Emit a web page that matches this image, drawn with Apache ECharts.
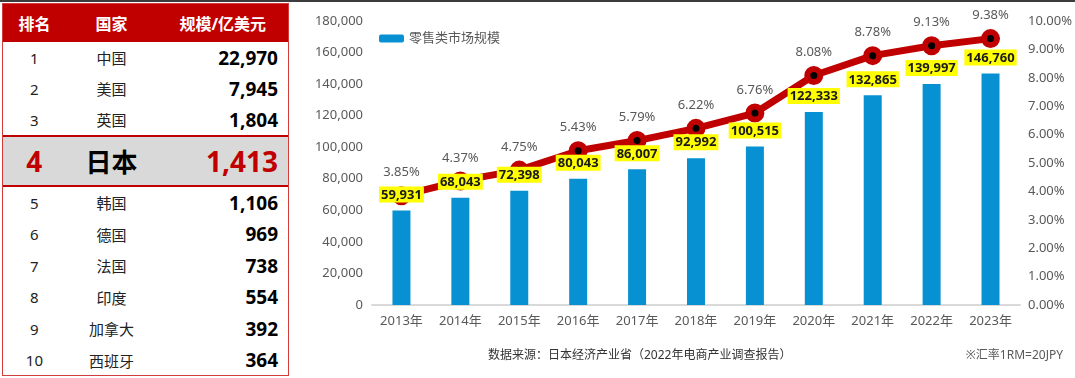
<!DOCTYPE html>
<html>
<head>
<meta charset="utf-8">
<script src="https://cdn.jsdelivr.net/npm/echarts@6/dist/echarts.min.js"></script>
<style>
  html, body { margin:0; padding:0; background:#fff; }
  body { width:1075px; height:378px; position:relative; overflow:hidden; font-family:'Noto Sans','Noto Sans CJK SC',sans-serif; }
  #topline { position:absolute; left:0; top:0; width:1075px; height:2px; background:#3c3c3c; }
  #chart { position:absolute; left:0; top:0; width:1075px; height:378px; }
  #tbl { position:absolute; left:2px; top:3px; width:287px; height:373px; border:1px solid #d23c3c; box-sizing:border-box; background:#fff; z-index:2; }
  .row { display:flex; align-items:center; box-sizing:border-box; }
  .c1 { width:63px; text-align:center; }
  .c2 { width:92px; text-align:center; }
  .c3 { width:121px; text-align:right; padding-right:10px; }
  .hdr { height:38px; background:#c00000; color:#fff; font-weight:bold; font-size:16px; }
  .hdr .c3 { text-align:center; padding-right:0; width:131px; }
  .r { color:#222; font-size:15px; }
  .r .c3 { font-size:19px; font-weight:bold; color:#000; }
  .hl { height:52px; background:#d9d9d9; border-top:2px solid #c00000; border-bottom:2px solid #c00000; font-weight:bold; }
  .hl .c1, .hl .c3 { color:#c00000; font-size:28px; }
  .hl .c2 { color:#000; font-size:26px; }
</style>
</head>
<body>
<div id="chart"></div>
<div id="topline"></div>
<div id="tbl"></div>
<script>
// ---- Ranking table data ----
const tableHeaders = ['排名', '国家', '规模/亿美元'];
const ranks = [1, 2, 3, 4, 5, 6, 7, 8, 9, 10];
const countries = ['中国', '美国', '英国', '日本', '韩国', '德国', '法国', '印度', '加拿大', '西班牙'];
const marketSizeUSD = [22970, 7945, 1804, 1413, 1106, 969, 738, 554, 392, 364];
const highlightCountry = '日本';

// ---- Chart data ----
const years = ['2013年', '2014年', '2015年', '2016年', '2017年', '2018年', '2019年', '2020年', '2021年', '2022年', '2023年'];
const retailMarket = [59931, 68043, 72398, 80043, 86007, 92992, 100515, 122333, 132865, 139997, 146760];
const ecRate = [3.85, 4.37, 4.75, 5.43, 5.79, 6.22, 6.76, 8.08, 8.78, 9.13, 9.38];
const seriesName = '零售类市场规模';
const sourceNote = '数据来源：日本经济产业省（2022年电商产业调查报告）';
const rateNote = '※汇率1RM=20JPY';

// build table
const fmt = v => v.toLocaleString('en-US');
const tbl = document.getElementById('tbl');
let html = '<div class="row hdr">' + tableHeaders.map((h, i) => '<div class="c' + (i + 1) + '">' + h + '</div>').join('') + '</div>';
ranks.forEach((r, i) => {
  const isHl = countries[i] === highlightCountry;
  const h = isHl ? '' : (i < 3 ? 'height:31px;' : 'height:31.5px;');
  html += '<div class="row ' + (isHl ? 'hl' : 'r') + '" style="' + h + '"><div class="c1">' + r + '</div><div class="c2">' + countries[i] + '</div><div class="c3">' + fmt(marketSizeUSD[i]) + '</div></div>';
});
tbl.innerHTML = html;

const FF = "'Noto Sans','Noto Sans CJK SC',sans-serif";
const chart = echarts.init(document.getElementById('chart'), null, { renderer: 'canvas' });
chart.setOption({
  animation: false,
  textStyle: { fontFamily: FF },
  grid: { left: 372, right: 55, top: 21, bottom: 73, containLabel: false },
  legend: {
    data: [seriesName], left: 374, top: 27, itemWidth: 25, itemHeight: 8, itemGap: 6,
    textStyle: { color: '#595959', fontSize: 13, fontFamily: FF }
  },
  xAxis: {
    type: 'category', data: years,
    axisLine: { lineStyle: { color: '#d9d9d9', width: 2 } },
    axisTick: { show: false },
    axisLabel: { color: '#595959', fontSize: 13, margin: 10, fontFamily: FF }
  },
  yAxis: [
    {
      type: 'value', min: 0, max: 180000, interval: 20000,
      splitLine: { show: false }, axisLine: { show: false }, axisTick: { show: false },
      axisLabel: { color: '#595959', fontSize: 13, margin: 9, formatter: v => fmt(v), fontFamily: FF }
    },
    {
      type: 'value', min: 0, max: 10, interval: 1,
      splitLine: { show: false }, axisLine: { show: false }, axisTick: { show: false },
      axisLabel: { color: '#595959', fontSize: 13, margin: 8, formatter: v => v.toFixed(2) + '%', fontFamily: FF }
    }
  ],
  series: [
    {
      name: seriesName, type: 'bar', data: retailMarket, barWidth: 18, z: 3,
      itemStyle: { color: '#0791d3' },
      label: {
        show: true, position: 'top', distance: 8,
        backgroundColor: '#ffff00', padding: [2, 2, 1, 2],
        color: '#1a1a1a', fontWeight: 'bold', fontSize: 13, fontFamily: FF,
        formatter: p => fmt(p.value)
      }
    },
    {
      name: 'EC化率', type: 'line', yAxisIndex: 1, data: ecRate, z: 2,
      lineStyle: { color: '#c00000', width: 7 },
      symbol: 'circle', symbolSize: 13,
      itemStyle: { color: '#000', borderColor: '#c00000', borderWidth: 6 },
      label: {
        show: true, position: 'top', distance: 7,
        color: '#595959', fontSize: 13, fontFamily: FF,
        formatter: p => p.value.toFixed(2) + '%'
      }
    }
  ],
  graphic: [
    { type: 'text', left: 488, top: 350, style: { text: sourceNote, fill: '#333', font: '12px ' + FF } },
    { type: 'text', right: 12, top: 350, style: { text: rateNote, fill: '#595959', font: '12px ' + FF } }
  ]
});
</script>
</body>
</html>
